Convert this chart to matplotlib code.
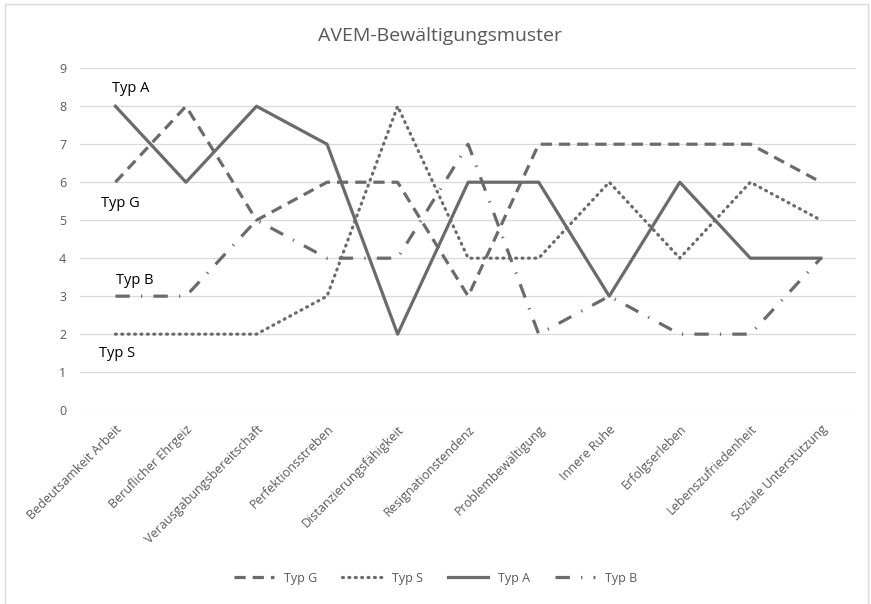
import numpy as np
import matplotlib
matplotlib.use("Agg")
import matplotlib.pyplot as plt
from matplotlib.patches import Rectangle

plt.rcParams['font.family'] = ['Open Sans', 'DejaVu Sans']

categories = ["Bedeutsamkeit Arbeit", "Beruflicher Ehrgeiz", "Verausgabungsbereitschaft",
              "Perfektionsstreben", "Distanzierungsfähigkeit", "Resignationstendenz",
              "Problembewältigung", "Innere Ruhe", "Erfolgserleben",
              "Lebenszufriedenheit", "Soziale Unterstützung"]
typ_g = [6, 8, 5, 6, 6, 3, 7, 7, 7, 7, 6]
typ_s = [2, 2, 2, 3, 8, 4, 4, 6, 4, 6, 5]
typ_a = [8, 6, 8, 7, 2, 6, 6, 3, 6, 4, 4]
typ_b = [3, 3, 5, 4, 4, 7, 2, 3, 2, 2, 4]

col = '#6b6b6b'
txt = '#595959'
x = np.arange(len(categories))

fig = plt.figure(figsize=(8.71, 6.04), dpi=100)
ax = fig.add_axes([0.092, 0.321, 0.891, 0.566])

lw = 2.3
ax.plot(x, typ_g, color=col, lw=lw, dashes=(3.5, 2.2), label='Typ G')
ax.plot(x, typ_s, color=col, lw=lw, dashes=(0.3, 1.7), dash_capstyle='round', label='Typ S')
ax.plot(x, typ_a, color=col, lw=lw, label='Typ A')
ax.plot(x, typ_b, color=col, lw=lw, dashes=(4.5, 3.5, 0.4, 3.5), label='Typ B')

ax.set_xlim(-0.5, len(categories) - 0.5)
ax.set_ylim(0, 9)
ax.set_yticks(range(0, 10))
ax.grid(axis='y', color='#d9d9d9', lw=0.9)
ax.set_axisbelow(True)
for s in ax.spines.values():
    s.set_visible(False)
ax.tick_params(length=0, colors=txt, labelsize=9)
ax.tick_params(axis='y', pad=10)
ax.tick_params(axis='x', pad=9)
ax.set_xticks(x)
ax.set_xticklabels(categories, rotation=45, ha='right', rotation_mode='anchor')

# labels beside the series
ax.text(0.21, 8.47, 'Typ A', fontsize=10.5, color='black', ha='center', va='center')
ax.text(0.07, 5.45, 'Typ G', fontsize=10.5, color='black', ha='center', va='center')
ax.text(0.27, 3.42, 'Typ B', fontsize=10.5, color='black', ha='center', va='center')
ax.text(0.02, 1.5, 'Typ S', fontsize=10.5, color='black', ha='center', va='center')

fig.text(0.505, 0.94, 'AVEM-Bewältigungsmuster', fontsize=14, color=txt, ha='center', va='center')

fig.legend(loc='center', bbox_to_anchor=(0.5, 0.043), ncol=4, frameon=False,
           fontsize=9, labelcolor=txt, handlelength=3.2, columnspacing=2.0)

fig.patches.append(Rectangle((0.0057, -0.02), 0.991, 1.0134, transform=fig.transFigure,
                             fill=False, edgecolor='#d9d9d9', lw=1))

fig.savefig('out.png', dpi=100)
